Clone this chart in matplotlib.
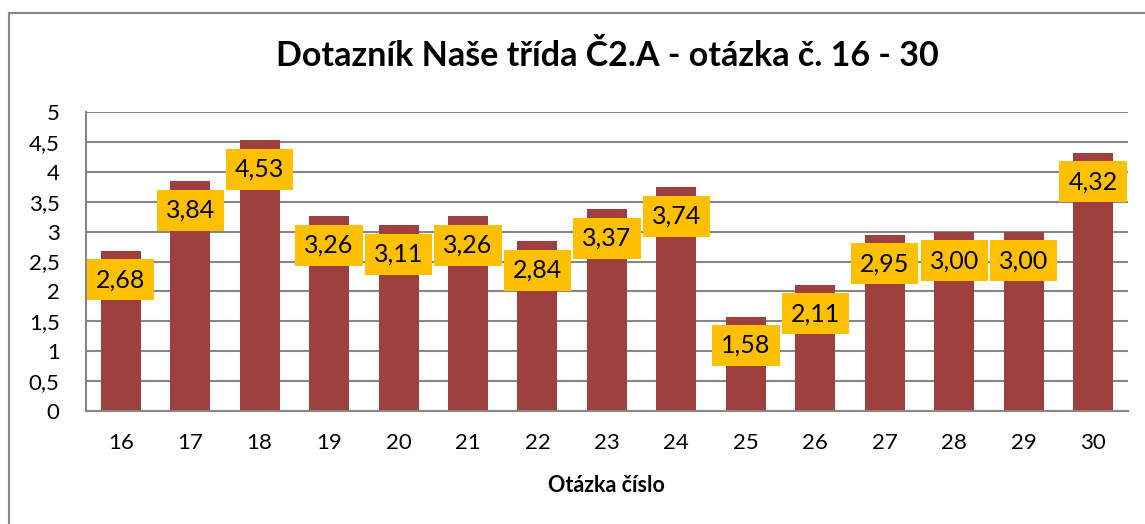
import matplotlib.pyplot as plt
from matplotlib.lines import Line2D
from matplotlib.ticker import FuncFormatter

questions = ['16', '17', '18', '19', '20', '21', '22', '23', '24', '25', '26', '27', '28', '29', '30']
averages = [2.68, 3.84, 4.53, 3.26, 3.11, 3.26, 2.84, 3.37, 3.74, 1.58, 2.11, 2.95, 3.00, 3.00, 4.32]

title = 'Dotazník Naše třída Č2.A - otázka č. 16 - 30'
x_title = 'Otázka číslo'

bar_color = '#9E413E'
label_color = '#FFC000'
grid_color = '#868686'

plt.rcParams['font.family'] = ['Lato', 'DejaVu Sans']

fig = plt.figure(figsize=(11.45, 5.24), dpi=100)
ax = fig.add_axes([0.0751, 0.2156, 0.9099, 0.5707])

x = list(range(len(questions)))
ax.bar(x, averages, width=0.575, color=bar_color, zorder=2)

# data labels inside the top of each bar
for xi, v in zip(x, averages):
    ax.annotate(f'{v:.2f}'.replace('.', ','), (xi, v), xytext=(0, -29),
                textcoords='offset pixels', ha='center', va='center',
                fontsize=18, color='black', zorder=4,
                bbox=dict(boxstyle='square,pad=0.36', fc=label_color, ec='none'))

ax.set_xlim(-0.5, len(questions) - 0.5)
ax.set_ylim(0, 5)
ax.set_yticks([i * 0.5 for i in range(11)])
ax.yaxis.set_major_formatter(FuncFormatter(lambda v, p: f'{v:g}'.replace('.', ',')))
ax.set_xticks(x)
ax.set_xticklabels(questions)
ax.tick_params(axis='y', length=0, pad=19, labelsize=16)
ax.tick_params(axis='x', length=0, pad=16, labelsize=16)

ax.grid(axis='y', color=grid_color, linewidth=1.5, zorder=1)
ax.set_axisbelow(True)
for side in ['top', 'right']:
    ax.spines[side].set_visible(False)
ax.spines['left'].set_color(grid_color)
ax.spines['bottom'].set_color(grid_color)
ax.spines['left'].set_linewidth(1.5)
ax.spines['bottom'].set_linewidth(1.5)

ax.set_title(title, fontsize=24.5, fontweight='bold', pad=33)
ax.set_xlabel(x_title, fontsize=15.5, fontweight='bold', labelpad=16)

# chart frame (left and top edges visible)
fig.add_artist(Line2D([9 / 1145, 9 / 1145], [0, 1 - 13 / 524], transform=fig.transFigure,
                      color=grid_color, linewidth=1.5))
fig.add_artist(Line2D([9 / 1145, 1], [1 - 13 / 524, 1 - 13 / 524], transform=fig.transFigure,
                      color=grid_color, linewidth=1.5))

fig.savefig('out.png', dpi=100)
